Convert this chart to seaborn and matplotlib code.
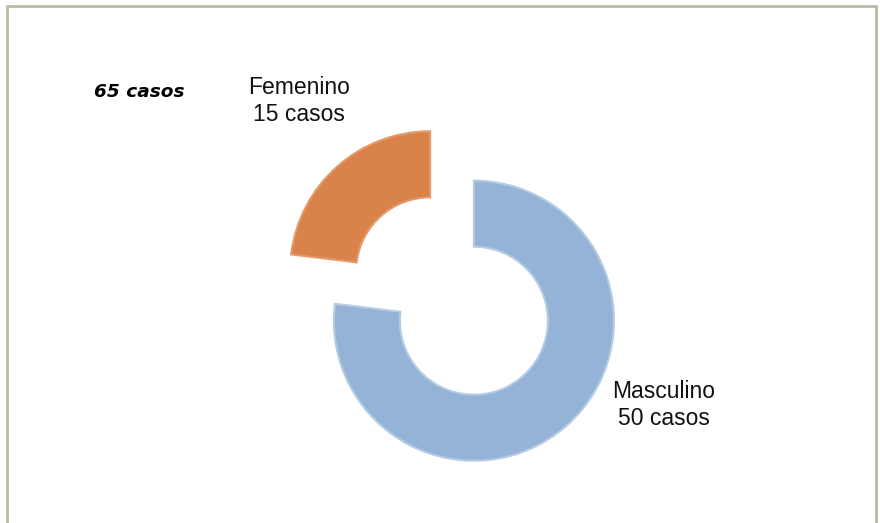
import matplotlib
matplotlib.use('Agg')
import matplotlib.pyplot as plt
import matplotlib.patches as mpatches
import seaborn as sns

# Data
categories = ['Masculino', 'Femenino']
casos = [50, 15]
colors = ['#95B3D7', '#D9834A']
total_label = '65 casos'

sns.set_theme(style='white')
plt.rcParams['font.family'] = ['Liberation Sans', 'DejaVu Sans']

fig = plt.figure(figsize=(8.8, 5.23), dpi=100)
ax = fig.add_axes([0, 0, 1, 1])

# Doughnut with both slices pulled apart (explode is in data units here)
wedges, _ = ax.pie(casos, colors=colors, startangle=90, counterclock=False,
                   radius=140, center=(452, 227), explode=[33, 33],
                   wedgeprops=dict(width=66, linewidth=1.5),
                   frame=True)
wedges[0].set_edgecolor('#B4CBE4')
wedges[1].set_edgecolor('#E39B6B')
ax.set_xlim(0, 880)
ax.set_ylim(0, 523)
ax.set_aspect('equal')
ax.axis('off')

# Labels
for name, n, (x, y) in zip(categories, casos, [(664, 118), (299, 422)]):
    ax.text(x, y, f'{name}\n{n} casos', ha='center', va='center',
            fontsize=16.5, linespacing=1.25, color='#111111')

ax.text(139, 431, total_label, ha='center', va='center', fontsize=13.3,
        fontweight='bold', fontstyle='italic', color='black',
        family=['DejaVu Sans'])

# Outer frame
fig.patches.append(mpatches.Rectangle((7 / 880, -0.05), 869 / 880, 1.05 - 6 / 523,
                                      transform=fig.transFigure, fill=False,
                                      edgecolor='#B8BBA6', linewidth=2))

fig.savefig('out.png', dpi=100, facecolor='white')
